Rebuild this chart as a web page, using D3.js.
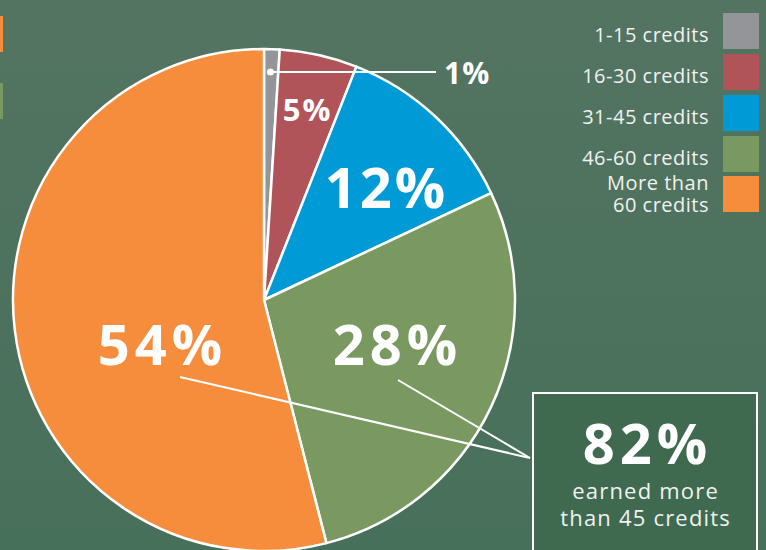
<!DOCTYPE html>
<html>
<head>
<meta charset="utf-8">
<script src="https://cdn.jsdelivr.net/npm/d3@7"></script>
<style>
  html, body { margin: 0; padding: 0; background: #4e7360; }
  svg { display: block; font-family: "Open Sans", Lato, sans-serif; }
</style>
</head>
<body>
<svg id="chart" width="766" height="550"></svg>
<script>
const categories = ['1-15 credits', '16-30 credits', '31-45 credits', '46-60 credits', 'More than 60 credits'];
const legendLines = [['1-15 credits'], ['16-30 credits'], ['31-45 credits'], ['46-60 credits'], ['More than', '60 credits']];
const values = [1, 5, 12, 28, 54];
const colors = ['#939598', '#b1545a', '#009bd6', '#7a9961', '#f68d3d'];
const summaryValue = '82%';
const summaryText = ['earned more', 'than 45 credits'];

const width = 766;
const height = 550;
const cx = 264;
const cy = 300;
const radius = 251;

const svg = d3.select('#chart');

// background gradient
const defs = svg.append('defs');
const grad = defs.append('linearGradient')
  .attr('id', 'bg')
  .attr('x1', 0).attr('y1', 0).attr('x2', 0).attr('y2', 1);
grad.append('stop').attr('offset', '0%').attr('stop-color', '#537461');
grad.append('stop').attr('offset', '100%').attr('stop-color', '#47705a');

svg.append('rect')
  .attr('width', width)
  .attr('height', height)
  .attr('fill', 'url(#bg)');

// cut-off swatches on the left edge
svg.append('rect').attr('x', 0).attr('y', 16).attr('width', 3).attr('height', 36).attr('fill', colors[4]);
svg.append('rect').attr('x', 0).attr('y', 83).attr('width', 3).attr('height', 36).attr('fill', colors[3]);

const pie = d3.pie().sort(null).value(d => d);
const arcs = pie(values);
const arc = d3.arc().innerRadius(0).outerRadius(radius);

const g = svg.append('g').attr('transform', `translate(${cx},${cy})`);

g.selectAll('path.slice')
  .data(arcs)
  .join('path')
  .attr('class', 'slice')
  .attr('d', arc)
  .attr('fill', (d, i) => colors[i])
  .attr('stroke', '#fff')
  .attr('stroke-width', 2.5)
  .attr('stroke-linejoin', 'round');

// labels inside slices
const labelRadius = [0, 195, 165, 137, 113];
const labelSize = [0, 31, 56, 56, 56];
const labelSpacing = [0, 2, 3, 5, 5];
arcs.forEach((d, i) => {
  if (i === 0) return;
  const la = d3.arc().innerRadius(labelRadius[i]).outerRadius(labelRadius[i]);
  let [x, y] = la.centroid(d);
  if (i === 2) { x += 8; y += 8; }
  if (i === 4) { x = -104; y = 45; }
  if (i === 3) { x = 131; y = 45; }
  g.append('text')
    .attr('x', x + labelSpacing[i] / 2)
    .attr('y', y)
    .attr('dy', '0.36em')
    .attr('text-anchor', 'middle')
    .attr('fill', '#fff')
    .style('font-size', labelSize[i] + 'px')
    .style('font-weight', 700)
    .style('letter-spacing', labelSpacing[i] + 'px')
    .text(values[i] + '%');
});

// 1% leader
const small = arcs[0];
const midA = (small.startAngle + small.endAngle) / 2;
const dotX = cx + Math.sin(midA) * (radius - 45);
const dotY = 72;
svg.append('line')
  .attr('x1', dotX).attr('y1', dotY)
  .attr('x2', 436).attr('y2', dotY)
  .attr('stroke', '#fff').attr('stroke-width', 2);
svg.append('circle')
  .attr('cx', dotX).attr('cy', dotY).attr('r', 3.5)
  .attr('fill', '#fff');
svg.append('text')
  .attr('x', 444).attr('y', 84)
  .attr('fill', '#fff')
  .style('font-size', '30px')
  .style('font-weight', 700)
  .style('letter-spacing', '1px')
  .text(values[0] + '%');

// legend
const legend = svg.append('g');
const rowTop = [13, 54, 95, 136, 176];
legendLines.forEach((lines, i) => {
  legend.append('rect')
    .attr('x', 723).attr('y', rowTop[i])
    .attr('width', 36).attr('height', 36)
    .attr('fill', colors[i]);
  const baselines = lines.length === 1 ? [rowTop[i] + 29] : [rowTop[i] + 14, rowTop[i] + 36];
  lines.forEach((s, j) => {
    legend.append('text')
      .attr('x', 709)
      .attr('y', baselines[j])
      .attr('text-anchor', 'end')
      .attr('fill', '#f1f1f1')
      .style('font-size', '20px')
      .style('letter-spacing', '0.5px')
      .text(s);
  });
});

// connector lines to summary box
const boxX = 533, boxY = 393, boxW = 224;
const joinX = 530, joinY = 458;
svg.append('line')
  .attr('x1', 180).attr('y1', 377).attr('x2', joinX).attr('y2', joinY)
  .attr('stroke', '#fff').attr('stroke-width', 2);
svg.append('line')
  .attr('x1', 398).attr('y1', 380).attr('x2', joinX).attr('y2', joinY)
  .attr('stroke', '#fff').attr('stroke-width', 2);

// summary box
svg.append('rect')
  .attr('x', boxX).attr('y', boxY)
  .attr('width', boxW).attr('height', 200)
  .attr('fill', '#3f6a50')
  .attr('stroke', '#fff')
  .attr('stroke-width', 2);
svg.append('text')
  .attr('x', boxX + boxW / 2 + 2.5).attr('y', 464)
  .attr('text-anchor', 'middle')
  .attr('fill', '#fff')
  .style('font-size', '56px')
  .style('font-weight', 700)
  .style('letter-spacing', '5px')
  .text(summaryValue);
summaryText.forEach((s, i) => {
  svg.append('text')
    .attr('x', boxX + boxW / 2 + 0.6).attr('y', 499 + i * 27)
    .attr('text-anchor', 'middle')
    .attr('fill', '#f1f1f1')
    .style('font-size', '22px')
    .style('letter-spacing', '1.2px')
    .text(s);
});
</script>
</body>
</html>
